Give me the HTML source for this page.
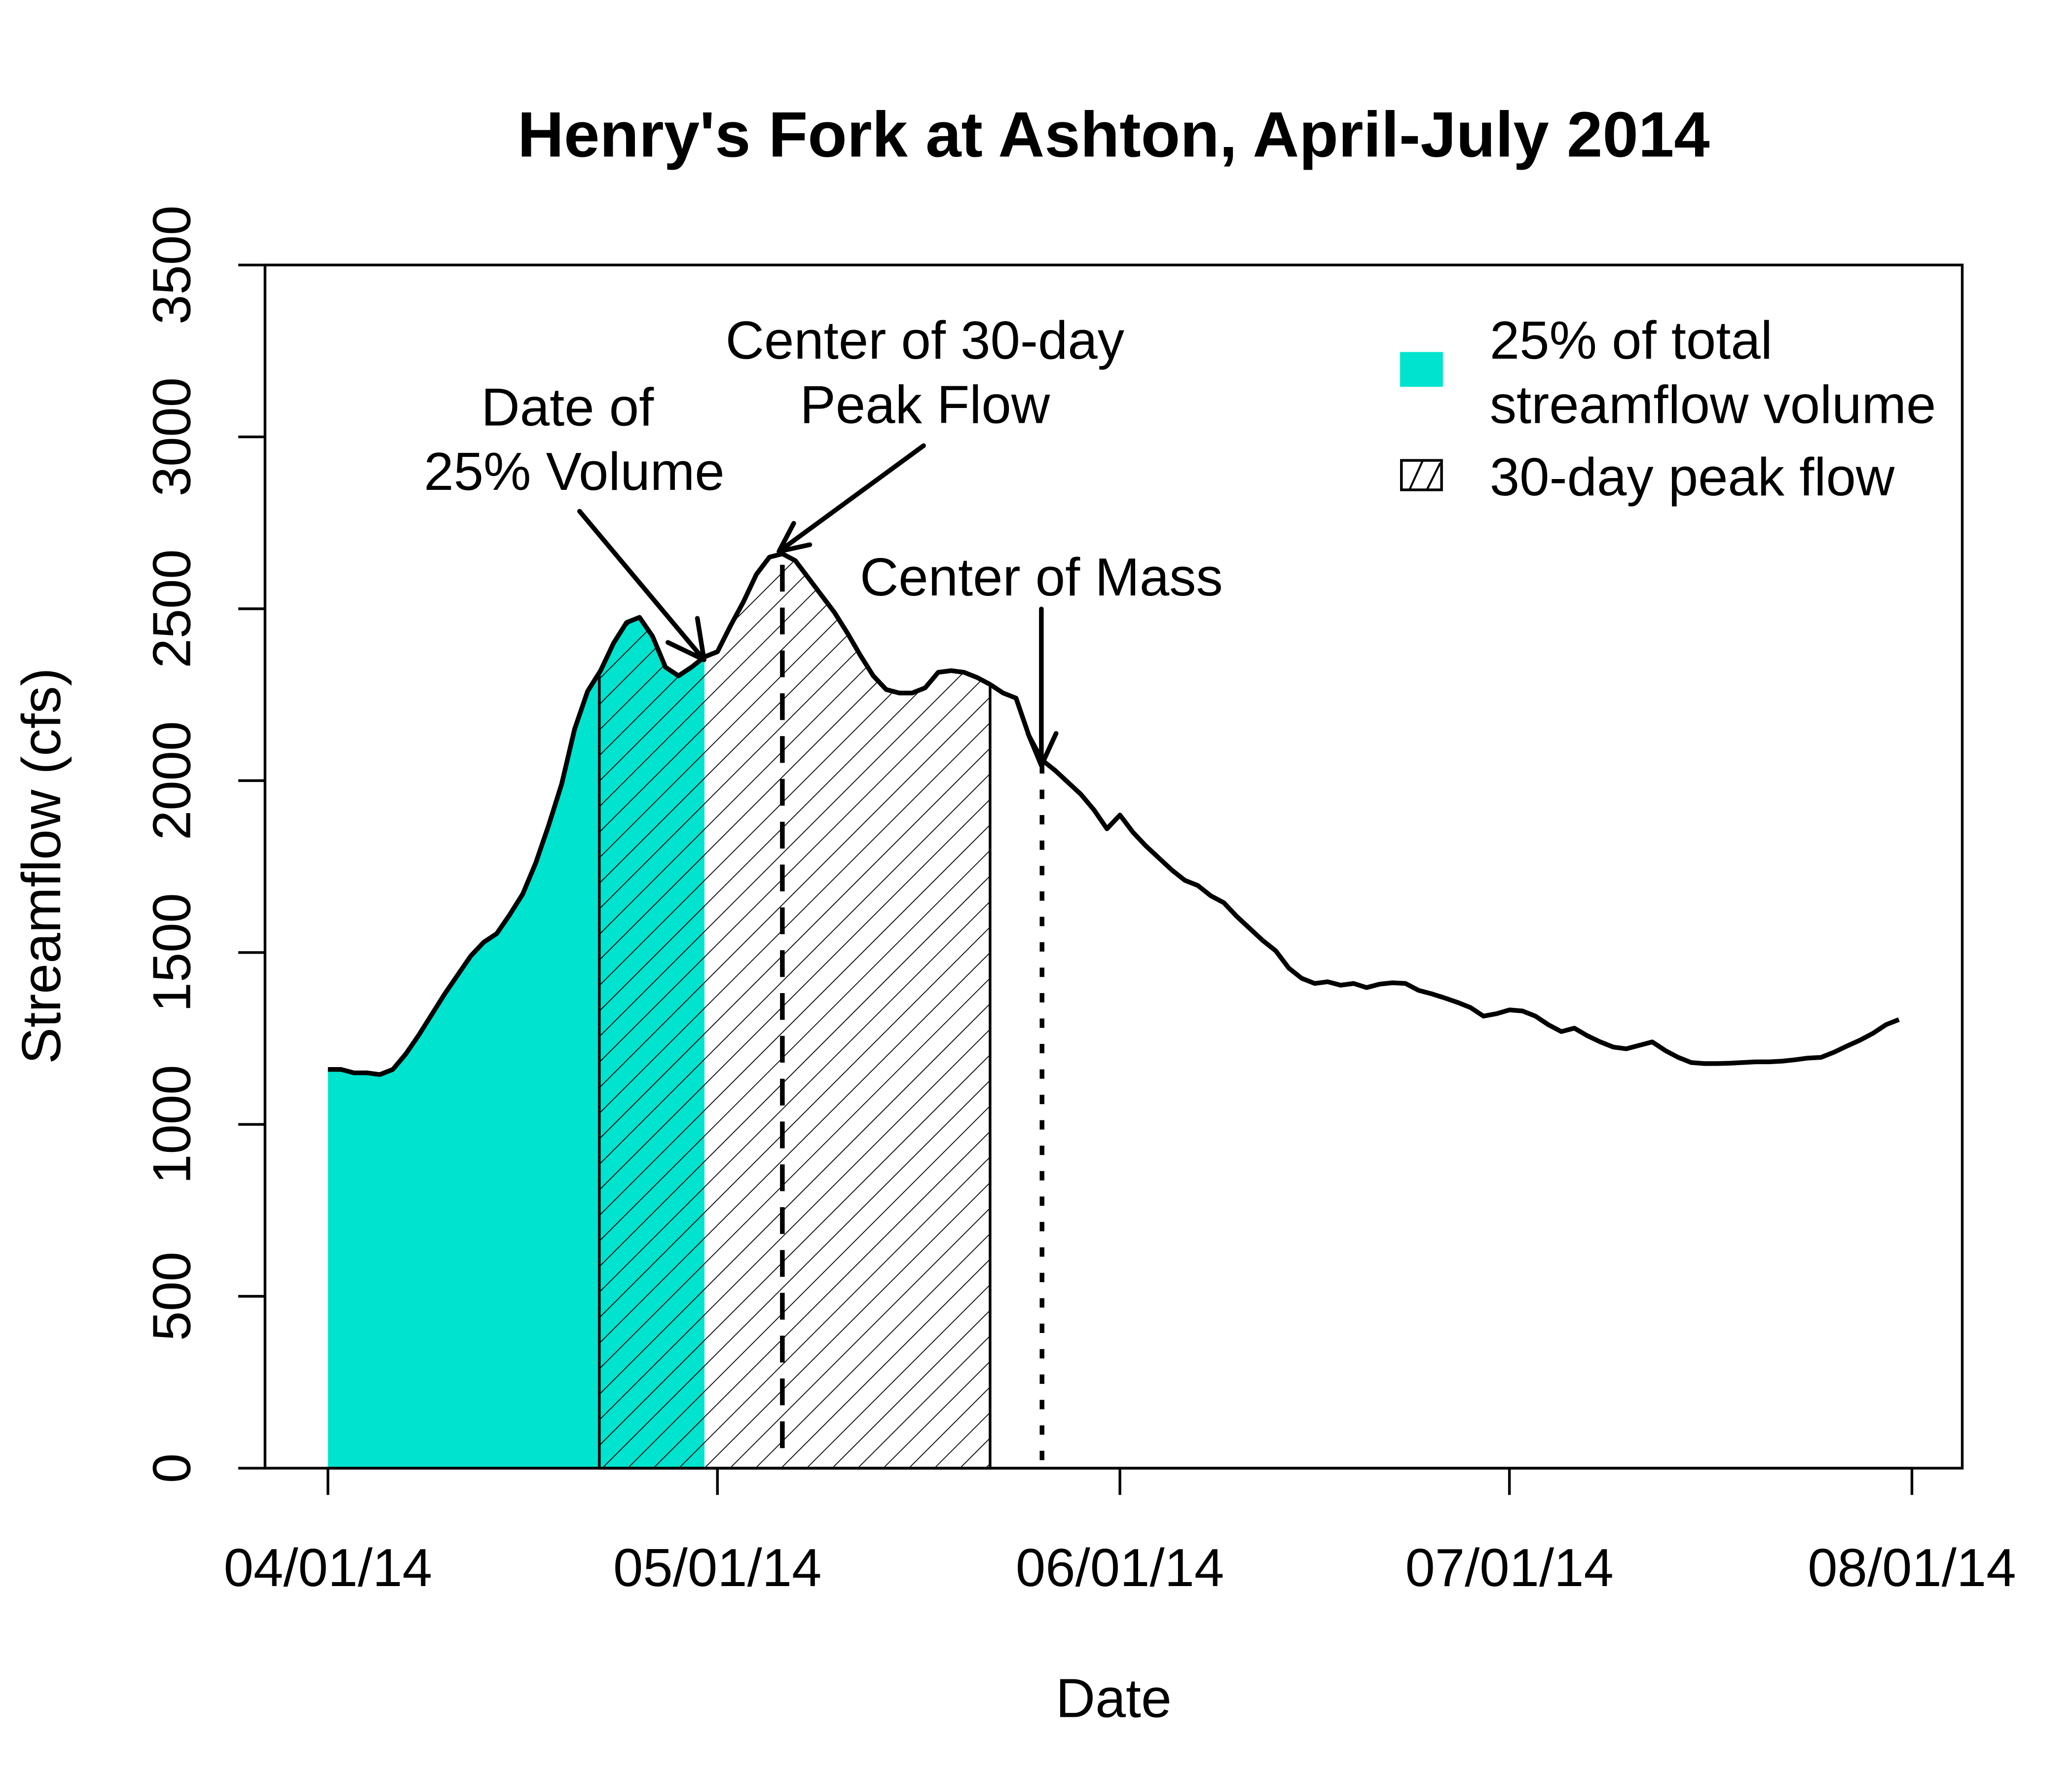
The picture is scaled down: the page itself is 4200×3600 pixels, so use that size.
<!DOCTYPE html>
<html><head><meta charset="utf-8"><style>
html,body{margin:0;padding:0;background:#fff;}
svg{display:block;}
text{font-family:"Liberation Sans",Arial,sans-serif;fill:#000;}
</style></head><body>
<svg id="chart" xmlns="http://www.w3.org/2000/svg" width="4200" height="3600" viewBox="0 0 1548 1327" preserveAspectRatio="none">
<defs>
<pattern id="hatch" patternUnits="userSpaceOnUse" width="13.5" height="13.5" patternTransform="rotate(45)">
<line x1="0" y1="0" x2="0" y2="13.5" stroke="#000" stroke-width="1.3"/>
</pattern>
</defs>
<rect width="1548" height="1327" fill="#fff"/>
<text x="832" y="117" font-size="48" font-weight="bold" text-anchor="middle">Henry's Fork at Ashton, April-July 2014</text>
<g id="fills"></g>
<g id="marks"></g>
<rect x="198" y="198" width="1268" height="899" fill="none" stroke="#000" stroke-width="2"/>
<g id="axes"></g>
<text transform="translate(45,647) rotate(-90)" font-size="41" text-anchor="middle">Streamflow (cfs)</text>
<text x="832" y="1283" font-size="41" text-anchor="middle">Date</text>
<!-- annotations -->
<g>
<text x="424" y="318" font-size="40" text-anchor="middle">Date of</text>
<text x="429" y="366" font-size="40" text-anchor="middle">25% Volume</text>
</g>
<g>
<text x="691" y="268" font-size="40" text-anchor="middle">Center of 30-day</text>
<text x="691" y="316" font-size="40" text-anchor="middle">Peak Flow</text>
</g>
<text x="778" y="445" font-size="40" text-anchor="middle">Center of Mass</text>
<g stroke="#000" stroke-width="3.5" fill="none" stroke-linecap="round">
<path d="M433,382 L526,493 M526,493 L521,462 M526,493 L499,480"/>
<path d="M690,333 L582,412 M582,412 L593,391 M582,412 L605,407"/>
<path d="M778,455 L778,572 M778,572 L768,548 M778,572 L789,548"/>
</g>
<!-- legend -->
<g>
<rect x="1046" y="263" width="32" height="26" fill="#00E3CE"/>
<text x="1113" y="268" font-size="40">25% of total</text>
<text x="1113" y="316" font-size="40">streamflow volume</text>
<rect x="1047" y="344" width="30" height="22" fill="#fff" stroke="#000" stroke-width="2"/>
<path d="M1053,366 L1063,344 M1066,366 L1076,346" stroke="#000" stroke-width="1.5"/>
<text x="1113" y="370" font-size="40">30-day peak flow</text>
</g>
</svg>
<script>
const flow = [1160,1160,1150,1150,1145,1160,1205,1260,1320,1380,1435,1490,1530,1555,1610,1670,1760,1870,1990,2150,
2260,2320,2400,2460,2475,2420,2330,2305,2330,2360,2375,2450,2520,2600,2650,2660,2640,2590,2540,2490,
2430,2365,2305,2265,2255,2255,2270,2315,2320,2315,2300,2280,2255,2240,2130,2060,2030,1995,1960,1915,
1860,1900,1850,1810,1775,1740,1710,1695,1665,1645,1605,1570,1535,1505,1455,1425,1410,1415,1405,1410,
1398,1408,1412,1410,1390,1380,1368,1355,1340,1315,1322,1333,1330,1315,1290,1270,1280,1258,1240,1225,
1220,1230,1240,1215,1195,1180,1177,1177,1178,1180,1182,1182,1184,1188,1193,1195,1210,1228,1245,1265,1290,1305];
const xTickDays = [0,30,61,91,122];
const xTickLabels = ["04/01/14","05/01/14","06/01/14","07/01/14","08/01/14"];
const yTicks = [0,500,1000,1500,2000,2500,3000,3500];
const peakStartDay = 20.9;
const peakEndDay = 51;
const pct25Day = 29;
const peakCenterDay = 35;
const centerMassDay = 55;

const NS = "http://www.w3.org/2000/svg";
function X(d){ return 245 + d*(1428.4-245)/122; }
function Y(v){ return 1097 - v*(899/3500); }
function val(d){ const i=Math.floor(d); const f=d-i; if(i>=flow.length-1) return flow[flow.length-1]; return flow[i]*(1-f)+flow[i+1]*f; }
function areaPath(a,b){
  let p = "M"+X(a)+","+Y(0)+" L"+X(a)+","+Y(val(a));
  for(let i=Math.ceil(a);i<b;i++){ if(i>a) p+=" L"+X(i)+","+Y(flow[i]); }
  p += " L"+X(b)+","+Y(val(b))+" L"+X(b)+","+Y(0)+" Z";
  return p;
}
function mk(tag, attrs, parent){ const e=document.createElementNS(NS,tag); for(const k in attrs) e.setAttribute(k,attrs[k]); parent.appendChild(e); return e; }
const fills = document.getElementById("fills");
const marks = document.getElementById("marks");
const axes = document.getElementById("axes");

const teal = mk("path",{d:areaPath(0,pct25Day),fill:"#00E3CE",stroke:"none"},fills);


const hatch = mk("path",{d:areaPath(peakStartDay,peakEndDay),fill:"url(#hatch)",stroke:"#000","stroke-width":"2"},fills);



const dash = mk("line",{x1:X(peakCenterDay),x2:X(peakCenterDay),y1:Y(0)-15,y2:Y(val(peakCenterDay)),stroke:"#000","stroke-width":"3.5","stroke-dasharray":"20 12"},marks);


const dot = mk("line",{x1:X(centerMassDay),x2:X(centerMassDay),y1:Y(0)-6,y2:Y(val(centerMassDay)),stroke:"#000","stroke-width":"3.5","stroke-dasharray":"7 12"},marks);



let lp = "";
flow.forEach((v,i)=>{ lp += (i?" L":"M")+X(i)+","+Y(v); });
const line = mk("path",{d:lp,fill:"none",stroke:"#000","stroke-width":"3.5","stroke-linejoin":"round"},marks);



mk("line",{x1:X(xTickDays[0]),x2:X(xTickDays[xTickDays.length-1]),y1:1097,y2:1097,stroke:"#000","stroke-width":"2"},axes);
xTickDays.forEach((d,i)=>{
  const t = mk("line",{x1:X(d),x2:X(d),y1:1097,y2:1117,stroke:"#000","stroke-width":"2"},axes);
  
  
  const l = mk("text",{x:X(d),y:1185,"font-size":"40","text-anchor":"middle"},axes);
  l.textContent = xTickLabels[i];
  
  
});
yTicks.forEach(v=>{
  const t = mk("line",{x1:178,x2:198,y1:Y(v),y2:Y(v),stroke:"#000","stroke-width":"2"},axes);
  
  
  const l = mk("text",{transform:"translate(142,"+Y(v)+") rotate(-90)","font-size":"40","text-anchor":"middle"},axes);
  l.textContent = String(v);
  
  
});
</script>
</body></html>
